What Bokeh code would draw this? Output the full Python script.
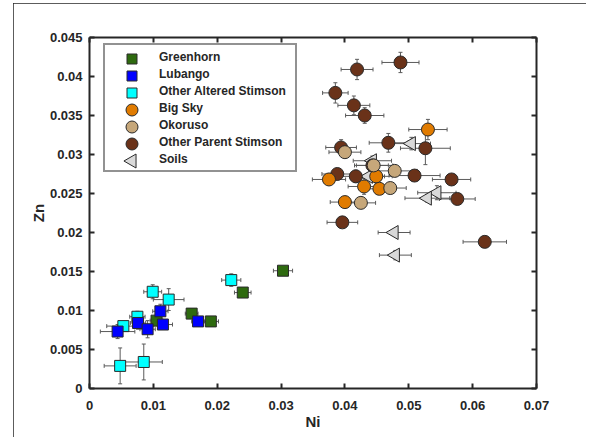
import numpy as np
from bokeh.plotting import figure
from bokeh.models import (ColumnDataSource, Whisker, TeeHead, LinearAxis, FixedTicker,
                          Legend, LegendItem, Range1d)
from bokeh.embed import file_html
from bokeh.resources import INLINE

# ---------------- data ----------------
series_names = ["Greenhorn", "Lubango", "Other Altered Stimson", "Big Sky", "Okoruso",
                "Other Parent Stimson", "Soils"]
series_colors = ["#2E6A0F", "#0000FF", "#00FFFF", "#E07B00", "#C6A77A", "#6A3219", "#D9D9D9"]
series_markers = ["square", "square", "square", "circle", "circle", "circle", "triangle"]

greenhorn_ni = [0.0303, 0.0240, 0.0190, 0.0160, 0.0105]
greenhorn_zn = [0.0151, 0.0123, 0.0086, 0.0096, 0.0087]
greenhorn_ni_err = [0.0015, 0.0013, 0.0012, 0.0010, 0.0010]
greenhorn_zn_err = [0.0003, 0.0003, 0.0003, 0.0003, 0.0003]

lubango_ni = [0.0044, 0.0076, 0.0091, 0.0111, 0.0115, 0.0170]
lubango_zn = [0.0073, 0.0084, 0.0076, 0.0099, 0.0082, 0.0086]
lubango_ni_err = [0.0027, 0.0012, 0.0012, 0.0012, 0.0015, 0.0010]
lubango_zn_err = [0.0009, 0.0008, 0.0011, 0.0009, 0.0006, 0.0004]

altered_ni = [0.0048, 0.0085, 0.0099, 0.0124, 0.0053, 0.0075, 0.0222]
altered_zn = [0.0029, 0.0034, 0.0124, 0.0114, 0.0080, 0.0092, 0.0139]
altered_ni_err = [0.0025, 0.0029, 0.0014, 0.0024, 0.0026, 0.0012, 0.0015]
altered_zn_err = [0.0023, 0.0023, 0.0009, 0.0014, 0.0006, 0.0007, 0.0008]

bigsky_ni = [0.0530, 0.0375, 0.0449, 0.0430, 0.0454, 0.0400]
bigsky_zn = [0.0332, 0.0268, 0.0272, 0.0259, 0.0256, 0.0239]
bigsky_ni_err = [0.0030, 0.0026, 0.0025, 0.0025, 0.0025, 0.0023]
bigsky_zn_err = [0.0013, 0.0005, 0.0010, 0.0010, 0.0005, 0.0004]

okoruso_ni = [0.0400, 0.0445, 0.0478, 0.0471, 0.0425]
okoruso_zn = [0.0303, 0.0286, 0.0279, 0.0257, 0.0238]
okoruso_ni_err = [0.0025, 0.0030, 0.0035, 0.0025, 0.0023]
okoruso_zn_err = [0.0005, 0.0009, 0.0006, 0.0005, 0.0004]

parent_ni = [0.0487, 0.0419, 0.0385, 0.0414, 0.0431, 0.0468, 0.0394, 0.0526, 0.0388,
             0.0417, 0.0509, 0.0567, 0.0576, 0.0443, 0.0396, 0.0619]
parent_zn = [0.0418, 0.0409, 0.0379, 0.0363, 0.0350, 0.0315, 0.0309, 0.0308, 0.0275,
             0.0272, 0.0273, 0.0268, 0.0243, 0.0286, 0.0213, 0.0188]
parent_ni_err = [0.0029, 0.0025, 0.0020, 0.0025, 0.0030, 0.0030, 0.0024, 0.0039, 0.0024,
                 0.0025, 0.0040, 0.0030, 0.0028, 0.0025, 0.0024, 0.0034]
parent_zn_err = [0.0013, 0.0013, 0.0013, 0.0012, 0.0010, 0.0012, 0.0010, 0.0021, 0.0005,
                 0.0008, 0.0005, 0.0005, 0.0005, 0.0010, 0.0005, 0.0005]

soils_ni = [0.0504, 0.0544, 0.0529, 0.0477, 0.0479, 0.0437, 0.0443]
soils_zn = [0.0314, 0.0251, 0.0244, 0.0200, 0.0171, 0.0272, 0.0292]
soils_ni_err = [0.0030, 0.0030, 0.0035, 0.0025, 0.0025, 0.0025, 0.0030]
soils_zn_err = [0.0008, 0.0009, 0.0005, 0.0003, 0.0006, 0.0004, 0.0006]

x_ticks = [0, 0.01, 0.02, 0.03, 0.04, 0.05, 0.06, 0.07]
x_tick_labels = ["0", "0.01", "0.02", "0.03", "0.04", "0.05", "0.06", "0.07"]
y_ticks = [0, 0.005, 0.01, 0.015, 0.02, 0.025, 0.03, 0.035, 0.04, 0.045]
y_tick_labels = ["0", "0.005", "0.01", "0.015", "0.02", "0.025", "0.03", "0.035", "0.04", "0.045"]

# ---------------- figure ----------------
AX = "#262626"
FONT = "Liberation Sans"
FRAME_W, FRAME_H = 447, 351

p = figure(frame_width=FRAME_W, frame_height=FRAME_H, min_border_left=76, min_border_right=50,
           min_border_top=34, min_border_bottom=49,
           x_range=(0, 0.07), y_range=(0, 0.045),
           output_backend="svg", toolbar_location=None)
p.styles = {"margin-left": "13px", "margin-top": "3px",
            "outline": "2px solid #262626", "outline-offset": "-2px"}
p.xgrid.visible = False
p.ygrid.visible = False
p.outline_line_color = None
p.background_fill_color = "white"
p.border_fill_color = "white"
# pixel ranges over the frame, used only to place the legend keys
p.extra_x_ranges = {"px": Range1d(0, FRAME_W)}
p.extra_y_ranges = {"py": Range1d(0, FRAME_H)}


def style_axis(ax, ticks, labels, show_labels=True):
    ax.ticker = FixedTicker(ticks=ticks)
    ax.major_label_overrides = {t: l for t, l in zip(ticks, labels)}
    ax.axis_line_color = AX
    ax.axis_line_width = 2
    ax.major_tick_line_color = AX
    ax.major_tick_line_width = 2
    ax.major_tick_in = 5
    ax.major_tick_out = 0
    ax.minor_tick_line_color = None
    ax.major_label_text_font = FONT
    ax.major_label_text_font_style = "bold"
    ax.major_label_text_font_size = "13px" if show_labels else "0px"
    ax.major_label_text_color = AX
    ax.axis_label_text_font = FONT
    ax.axis_label_text_font_style = "bold"
    ax.axis_label_text_font_size = "15px"
    ax.axis_label_text_color = AX


style_axis(p.xaxis[0], x_ticks, x_tick_labels)
style_axis(p.yaxis[0], y_ticks, y_tick_labels)
p.xaxis[0].axis_label = "Ni"
p.yaxis[0].axis_label = "Zn"
p.xaxis[0].major_label_standoff = 12
p.yaxis[0].major_label_standoff = 7
p.xaxis[0].axis_label_standoff = 0
p.yaxis[0].axis_label_standoff = 0

top_ax = LinearAxis()
style_axis(top_ax, x_ticks, [""] * len(x_ticks), show_labels=False)
p.add_layout(top_ax, "above")
right_ax = LinearAxis()
style_axis(right_ax, y_ticks, [""] * len(y_ticks), show_labels=False)
p.add_layout(right_ax, "right")

ERR = "#5a5a5a"
EDGE = "#2a2a2a"
SIZES = {"square": 11, "circle": 13, "triangle": 14}
LEFT = np.pi / 2  # rotation that makes the triangle point left


def add_series(idx, ni, zn, ni_err, zn_err):
    ni = np.array(ni); zn = np.array(zn)
    ne = np.array(ni_err); ze = np.array(zn_err)
    src = ColumnDataSource(dict(x=ni, y=zn, xl=ni - ne, xu=ni + ne, yl=zn - ze, yu=zn + ze))
    for dim, base, lo, hi in (("width", "y", "xl", "xu"), ("height", "x", "yl", "yu")):
        w = Whisker(source=src, base=base, lower=lo, upper=hi, dimension=dim,
                    line_color=ERR, line_width=1,
                    lower_head=TeeHead(size=4, line_color=ERR, line_width=1),
                    upper_head=TeeHead(size=4, line_color=ERR, line_width=1))
        p.add_layout(w)
    m = series_markers[idx]
    return p.scatter("x", "y", source=src, marker=m, size=SIZES[m],
                     fill_color=series_colors[idx], line_color=EDGE, line_width=1,
                     angle=LEFT if m == "triangle" else 0.0)


# drawing order (back to front) as in the reference
add_series(0, greenhorn_ni, greenhorn_zn, greenhorn_ni_err, greenhorn_zn_err)
add_series(2, altered_ni, altered_zn, altered_ni_err, altered_zn_err)
add_series(1, lubango_ni, lubango_zn, lubango_ni_err, lubango_zn_err)
add_series(6, soils_ni, soils_zn, soils_ni_err, soils_zn_err)
add_series(5, parent_ni, parent_zn, parent_ni_err, parent_zn_err)
add_series(3, bigsky_ni, bigsky_zn, bigsky_ni_err, bigsky_zn_err)
add_series(4, okoruso_ni, okoruso_zn, okoruso_ni_err, okoruso_zn_err)

# ---------------- legend ----------------
LEG_X, LEG_Y = 14, 216
ROW, GLYPH_W, PAD = 17, 51, 3
n_items = len(series_names)
leg_h = n_items * ROW + 2 * PAD

# legend keys, full size (frame pixel coordinates); legend box is transparent over them
key_x = [LEG_X + PAD + GLYPH_W / 2] * n_items
key_y = [LEG_Y + leg_h - PAD - (i + 0.5) * ROW for i in range(n_items)]
key_src = ColumnDataSource(dict(
    x=key_x, y=key_y, color=series_colors, marker=series_markers,
    size=[SIZES[m] - (1 if m != "triangle" else 0) for m in series_markers],
    angle=[LEFT if m == "triangle" else 0.0 for m in series_markers]))
p.scatter(x="x", y="y", source=key_src, marker="marker", size="size", angle="angle",
          fill_color="color", line_color=EDGE, line_width=1,
          x_range_name="px", y_range_name="py")

blank = p.scatter(x=[], y=[], marker="square", fill_alpha=0, line_alpha=0)
legend = Legend(items=[LegendItem(label=n, renderers=[blank]) for n in series_names],
                location=(LEG_X, LEG_Y))
legend.label_text_font = FONT
legend.label_text_font_style = "bold"
legend.label_text_font_size = "12px"
legend.label_text_color = AX
legend.label_height = ROW
legend.glyph_height = ROW
legend.glyph_width = GLYPH_W
legend.label_width = 133
legend.label_standoff = 0
legend.spacing = 0
legend.padding = PAD
legend.margin = 0
legend.border_line_color = AX
legend.border_line_width = 2
legend.background_fill_alpha = 0
p.add_layout(legend, "center")

open("out.html", "w").write(file_html(p, INLINE))
